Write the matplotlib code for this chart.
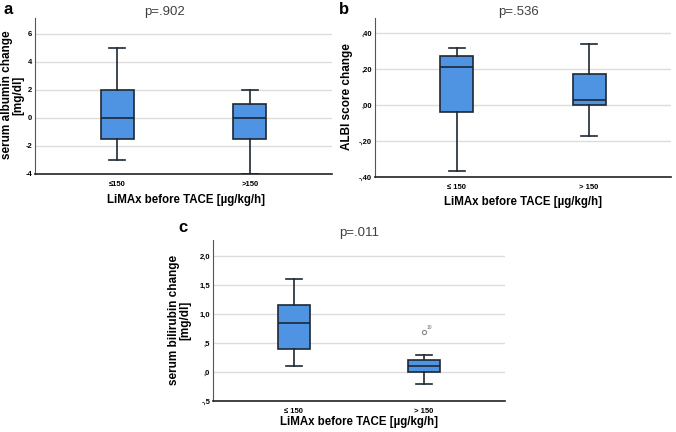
import numpy as np
import matplotlib.pyplot as plt

plt.rcParams['font.family'] = ['Liberation Sans', 'DejaVu Sans']

# group labels
groups_a = ['\u2264150', '>150']
groups_bc = ['\u2264 150', '> 150']

# box statistics: whislo, q1, median, q3, whishi
albumin_stats = [[-3.0, -1.5, 0.0, 2.0, 5.0],
                 [-4.0, -1.5, 0.0, 1.0, 2.0]]
albi_stats = [[-0.365, -0.04, 0.21, 0.27, 0.315],
              [-0.17, 0.0, 0.025, 0.17, 0.34]]
bili_stats = [[0.1, 0.4, 0.85, 1.15, 1.6],
              [-0.2, 0.0, 0.1, 0.2, 0.3]]
bili_fliers = [[], [0.7]]
bili_flier_ids = [[], ['10']]

albumin_ticks = [-4, -2, 0, 2, 4, 6]
albumin_ticklabels = ['-4', '-2', '0', '2', '4', '6']
albi_ticks = [-0.4, -0.2, 0.0, 0.2, 0.4]
albi_ticklabels = ['-,40', '-,20', ',00', ',20', ',40']
bili_ticks = [-0.5, 0.0, 0.5, 1.0, 1.5, 2.0]
bili_ticklabels = ['-,5', ',0', ',5', '1,0', '1,5', '2,0']

p_values = ['p=.902', 'p=.536', 'p=.011']
xlabel = 'LiMAx before TACE [\u00b5g/kg/h]'
ylabels = ['serum albumin change\n[mg/dl]', 'ALBI score change',
           'serum bilirubin change\n[mg/dl]']

W, H = 676, 432
BOX_FC = '#4f93e3'
EDGE = '#1e2733'

fig = plt.figure(figsize=(W / 100, H / 100), dpi=100)


def make_axes(left, top, right, bottom):
    return fig.add_axes([left / W, 1 - bottom / H, (right - left) / W, (bottom - top) / H])


def px_text(x, y, s, **kw):
    return fig.text(x / W, 1 - y / H, s, **kw)


def draw_panel(ax, stats, labels, ticks, ticklabels, ylim, fliers=None):
    bxp_stats = []
    for i, s in enumerate(stats):
        bxp_stats.append(dict(whislo=s[0], q1=s[1], med=s[2], q3=s[3], whishi=s[4],
                              fliers=(fliers[i] if fliers else [])))
    ax.bxp(bxp_stats, positions=[1, 2], widths=0.25, patch_artist=True,
           showfliers=True,
           boxprops=dict(facecolor=BOX_FC, edgecolor=EDGE, linewidth=1.2),
           medianprops=dict(color=EDGE, linewidth=1.2),
           whiskerprops=dict(color=EDGE, linewidth=1.2),
           capprops=dict(color=EDGE, linewidth=1.2),
           flierprops=dict(marker='o', markersize=3, markerfacecolor='none',
                           markeredgecolor='#888888', markeredgewidth=0.8))
    ax.set_xlim(0.38, 2.62)
    ax.set_ylim(*ylim)
    ax.set_xticks([1, 2])
    ax.set_xticklabels(labels, fontsize=5.5, fontweight='bold')
    ax.set_yticks(ticks)
    ax.set_yticklabels(ticklabels, fontsize=5.5, fontweight='bold')
    ax.tick_params(axis='y', length=0, pad=2)
    ax.tick_params(axis='x', length=0, pad=5)
    for t in ticks[1:]:
        ax.axhline(t, color='#dcdcdc', linewidth=1.0, zorder=0)
    for sp in ['top', 'right']:
        ax.spines[sp].set_visible(False)
    ax.spines['left'].set_color('#555555')
    ax.spines['bottom'].set_color('#222222')
    ax.spines['bottom'].set_linewidth(1.2)


# panel a
ax_a = make_axes(35, 18, 332, 174)
draw_panel(ax_a, albumin_stats, groups_a, albumin_ticks, albumin_ticklabels, (-4, 7.14))

# panel b
ax_b = make_axes(375, 18, 671, 177)
draw_panel(ax_b, albi_stats, groups_bc, albi_ticks, albi_ticklabels, (-0.4, 0.483))

# panel c
ax_c = make_axes(213, 240, 505, 401)
draw_panel(ax_c, bili_stats, groups_bc, bili_ticks, bili_ticklabels, (-0.5, 2.28),
           fliers=bili_fliers)
for i, (vals, ids) in enumerate(zip(bili_fliers, bili_flier_ids)):
    for v, lab in zip(vals, ids):
        ax_c.annotate(lab, (i + 1, v), xytext=(2, 2), textcoords='offset points',
                      fontsize=3.5, color='#666666')

# titles, axis labels, panel letters
title_kw = dict(fontsize=9.5, color='#404040', ha='center', va='center')
px_text(165, 12, p_values[0], **title_kw)
px_text(519, 12, p_values[1], **title_kw)
px_text(359, 233, p_values[2], **title_kw)

xl_kw = dict(fontsize=8.3, fontweight='bold', ha='center', va='center')
px_text(186, 200, xlabel, **xl_kw)
px_text(523, 202, xlabel, **xl_kw)
px_text(359, 422, xlabel, **xl_kw)

yl_kw = dict(fontsize=8.5, fontweight='bold', ha='center', va='center',
             rotation=90, linespacing=0.9, multialignment='center')
px_text(13, 95, ylabels[0], **yl_kw)
px_text(347, 97, ylabels[1], **yl_kw)
px_text(180, 320, ylabels[2], **yl_kw)

letter_kw = dict(fontsize=12, fontweight='bold', va='center', ha='left')
px_text(4, 9, 'a', **letter_kw)
px_text(339, 10, 'b', **letter_kw)
px_text(178, 228, 'c', **letter_kw)

fig.savefig('out.png', dpi=100)
